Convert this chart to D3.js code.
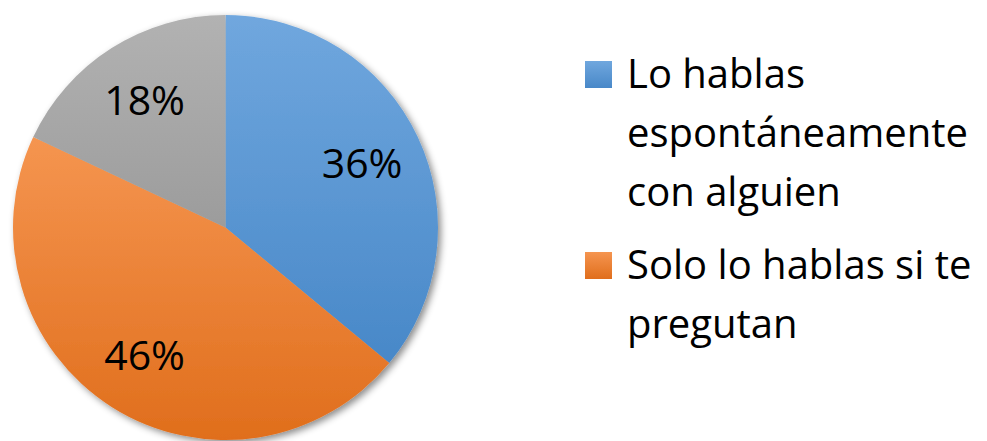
<!DOCTYPE html>
<html>
<head>
<meta charset="utf-8">
<script src="https://cdn.jsdelivr.net/npm/d3@7"></script>
<style>
  body { margin: 0; background: #fff; }
  svg { display: block; font-family: "Open Sans", sans-serif; }
</style>
</head>
<body>
<div class="chart"></div>
<script>
var categories = ['Lo hablas espontáneamente con alguien', 'Solo lo hablas si te preguntan', 'Otro'];
var values = [36, 46, 18];
var labels = ['36%', '46%', '18%'];
// legend lines as they wrap in the picture (third slice has no legend entry)
var legendLines = [['Lo hablas', 'espontáneamente', 'con alguien'], ['Solo lo hablas si te', 'pregutan']];

var width = 987, height = 441;
var cx = 225.5, cy = 227.5, radius = 212.5;

var colors = [
  { top: '#70a7de', bottom: '#4888c8' },
  { top: '#f59550', bottom: '#e06e1c' },
  { top: '#b2b2b2', bottom: '#9c9c9c' }
];

var svg = d3.select('.chart').append('svg')
  .attr('width', width)
  .attr('height', height);

var defs = svg.append('defs');

colors.forEach(function(c, i) {
  var grad = defs.append('linearGradient')
    .attr('id', 'grad' + i)
    .attr('x1', 0).attr('y1', 0).attr('x2', 0).attr('y2', 1);
  grad.append('stop').attr('offset', '0%').attr('stop-color', c.top);
  grad.append('stop').attr('offset', '100%').attr('stop-color', c.bottom);
});

defs.append('filter')
  .attr('id', 'shadow')
  .attr('x', '-10%').attr('y', '-10%').attr('width', '130%').attr('height', '130%')
  .append('feDropShadow')
  .attr('dx', 3).attr('dy', 3)
  .attr('stdDeviation', 3.5)
  .attr('flood-color', '#000')
  .attr('flood-opacity', 0.45);

var pie = d3.pie().sort(null).value(function(d) { return d; });
var arcs = pie(values);

var arc = d3.arc().innerRadius(0).outerRadius(radius);
var labelArc = d3.arc().innerRadius(151).outerRadius(151);

var g = svg.append('g')
  .attr('transform', 'translate(' + cx + ',' + cy + ')');

g.append('g')
  .attr('filter', 'url(#shadow)')
  .selectAll('path')
  .data(arcs)
  .enter()
  .append('path')
  .attr('d', arc)
  .attr('fill', function(d, i) { return 'url(#grad' + i + ')'; });

g.selectAll('text.label')
  .data(arcs)
  .enter()
  .append('text')
  .attr('class', 'label')
  .attr('transform', function(d) { return 'translate(' + labelArc.centroid(d) + ')'; })
  .attr('text-anchor', 'middle')
  .attr('dy', '0.36em')
  .attr('font-size', 41)
  .attr('fill', '#000')
  .text(function(d, i) { return labels[i]; });

// legend
var legendX = 585, legendTops = [61, 252], lineGap = 59;

var legend = svg.selectAll('.legend')
  .data(legendLines)
  .enter()
  .append('g')
  .attr('class', 'legend')
  .attr('transform', function(d, i) { return 'translate(' + legendX + ',' + legendTops[i] + ')'; });

legend.append('rect')
  .attr('width', 27)
  .attr('height', 27)
  .attr('fill', function(d, i) { return 'url(#grad' + i + ')'; });

legend.each(function(lines) {
  var t = d3.select(this).append('text')
    .attr('font-size', 40)
    .attr('fill', '#000');
  lines.forEach(function(line, j) {
    t.append('tspan')
      .attr('x', 42)
      .attr('y', 27 + j * lineGap)
      .text(line);
  });
});
</script>
</body>
</html>
